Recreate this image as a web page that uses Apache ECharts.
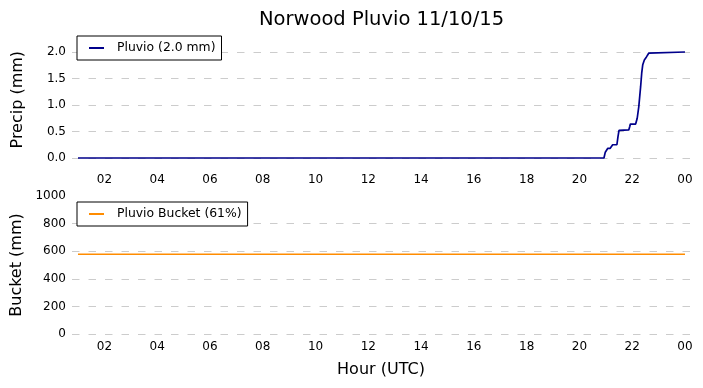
<!DOCTYPE html>
<html>
<head>
<meta charset="utf-8">
<script src="https://cdn.jsdelivr.net/npm/echarts@6/dist/echarts.min.js"></script>
<style>html,body{margin:0;padding:0;background:#fff}#c{width:703px;height:388px}</style>
</head>
<body>
<div id="c"></div>
<script>
// Time in decimal hours (UTC); 24 = 00 next day
const precipHours = [1.0, 20.93, 20.98, 21.03, 21.07, 21.16, 21.22, 21.26, 21.42, 21.46, 21.50, 21.53, 21.87, 21.91, 21.93, 22.13, 22.19, 22.25, 22.32, 22.36, 22.40, 22.46, 22.52, 22.58, 22.63, 22.68, 24.0];
const precipValues = [0.0, 0.0, 0.11, 0.12, 0.18, 0.18, 0.20, 0.25, 0.25, 0.40, 0.52, 0.53, 0.53, 0.60, 0.64, 0.64, 0.75, 0.97, 1.35, 1.60, 1.76, 1.85, 1.89, 1.94, 1.98, 2.0, 2.0];
const bucketHours = [1.0, 24.0];
const bucketValues = [578, 578];
const hourTicks = [2, 4, 6, 8, 10, 12, 14, 16, 18, 20, 22, 24];
const precipTicks = [0, 0.5, 1.0, 1.5, 2.0];
const bucketTicks = [0, 200, 400, 600, 800, 1000];
const bucketGridTicks = [0, 200, 400, 600, 800];

const FONT = 'DejaVu Sans';
const zip = (a, b) => a.map((v, i) => [v, b[i]]);
const hourFmt = v => String(Math.round(v) % 24).padStart(2, '0');

const xAxisBase = (gi) => ({
  type: 'value', gridIndex: gi, min: 0.773, max: 24.19,
  axisLine: {show: false},
  axisTick: {show: false, customValues: hourTicks},
  splitLine: {show: false},
  axisLabel: {customValues: hourTicks, formatter: hourFmt, color: '#000', fontFamily: FONT, fontSize: 12, margin: gi === 0 ? 16 : 7}
});
const gridLine = {show: true, lineStyle: {color: '#cccccc', width: 1, type: [7.5, 9]}};
const legendBase = {
  orient: 'horizontal', icon: 'rect', itemWidth: 15, itemHeight: 2,
  backgroundColor: '#fff', borderColor: '#000', borderWidth: 1, borderRadius: 0,
  padding: [5, 6, 5, 12],
  textStyle: {fontFamily: FONT, fontSize: 12.4, color: '#000', padding: [0, 0, 0, 8], lineHeight: 14}
};

const chart = echarts.init(document.getElementById('c'), null, {renderer: 'canvas'});
chart.setOption({
  animation: false,
  backgroundColor: '#fff',
  title: {text: 'Norwood Pluvio 11/10/15', left: 254, top: 5,
    textStyle: {fontFamily: FONT, fontSize: 19.5, fontWeight: 'normal', color: '#000'}},
  grid: [
    {left: 72, right: 13, top: 158 - 2.2 * 53, height: 2.2 * 53},
    {left: 72, right: 13, top: 196, height: 138}
  ],
  xAxis: [
    xAxisBase(0),
    Object.assign(xAxisBase(1), {name: 'Hour (UTC)', nameLocation: 'middle', nameGap: 28,
      nameTextStyle: {fontFamily: FONT, fontSize: 16, color: '#000'}})
  ],
  yAxis: [
    {type: 'value', gridIndex: 0, min: 0, max: 2.2,
      name: 'Precip (mm)', nameLocation: 'middle', nameGap: 46,
      nameTextStyle: {fontFamily: FONT, fontSize: 16, color: '#000'},
      axisLine: {show: false}, axisTick: {show: false, customValues: precipTicks},
      axisLabel: {customValues: precipTicks, formatter: v => v.toFixed(1), color: '#000', fontFamily: FONT, fontSize: 12, margin: 6},
      splitLine: gridLine},
    {type: 'value', gridIndex: 1, min: 0, max: 1000,
      name: 'Bucket (mm)', nameLocation: 'middle', nameGap: 46,
      nameTextStyle: {fontFamily: FONT, fontSize: 16, color: '#000'},
      axisLine: {show: false}, axisTick: {show: false, customValues: bucketGridTicks},
      axisLabel: {customValues: bucketTicks, formatter: v => String(v), color: '#000', fontFamily: FONT, fontSize: 12, margin: 6},
      splitLine: gridLine}
  ],
  legend: [
    Object.assign({data: ['Pluvio (2.0 mm)'], left: 77, top: 36}, legendBase),
    Object.assign({data: ['Pluvio Bucket (61%)'], left: 77, top: 202}, legendBase)
  ],
  series: [
    {name: 'Pluvio (2.0 mm)', type: 'line', xAxisIndex: 0, yAxisIndex: 0,
      data: zip(precipHours, precipValues), showSymbol: false, symbol: 'none', clip: false,
      lineStyle: {color: '#00008b', width: 1.7}, itemStyle: {color: '#00008b'}},
    {name: 'Pluvio Bucket (61%)', type: 'line', xAxisIndex: 1, yAxisIndex: 1,
      data: zip(bucketHours, bucketValues), showSymbol: false, symbol: 'none', clip: false,
      lineStyle: {color: '#ff8c00', width: 1.7}, itemStyle: {color: '#ff8c00'}}
  ]
});
</script>
</body>
</html>
